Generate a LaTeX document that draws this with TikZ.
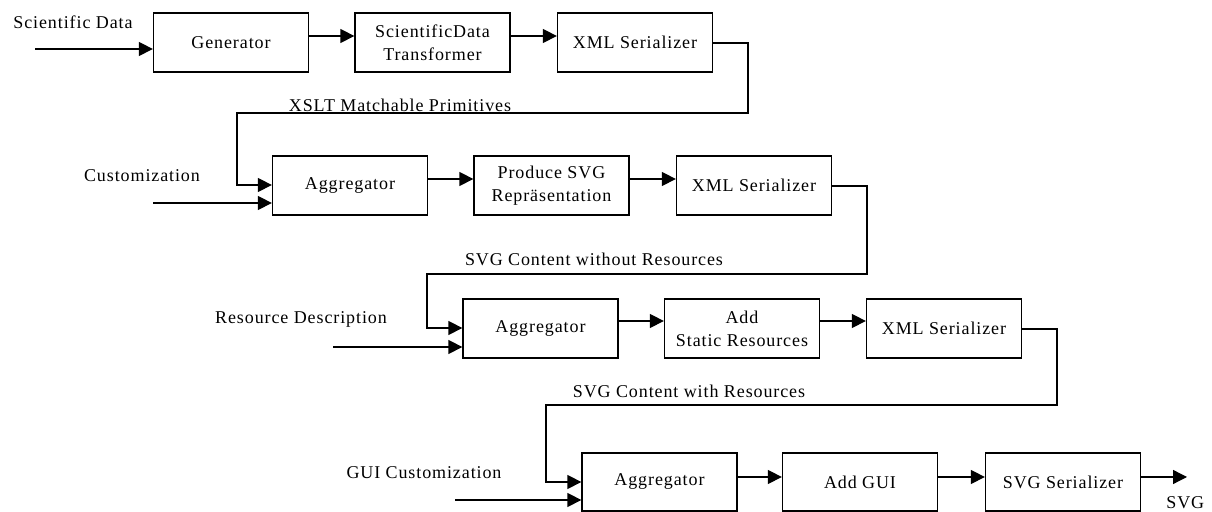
\documentclass[tikz,border=0pt]{standalone}
\usepackage{fontspec}
\setmainfont{Liberation Serif}[LetterSpace=5]
\usetikzlibrary{arrows.meta}
\begin{document}
\begin{tikzpicture}[x=0.5pt,y=-0.5pt,
  every node/.style={font=\fontsize{9}{11.5}\selectfont, inner sep=0pt},
  blk/.style={draw, line width=0.65pt, minimum width=77.5pt, minimum height=29.5pt, align=center},
  lbl/.style={},
  arr/.style={line width=0.65pt, -{Triangle[length=7pt,width=7pt]}},
  ln/.style={line width=0.65pt}]
\useasboundingbox (0,0) rectangle (1212,512);
% row 1
\node[blk] (gen)   at (231,42.5)  {Generator};
\node[blk] (trans) at (432.5,42.5) {ScientificData\\Transformer};
\node[blk] (xml1)  at (635,42.5)  {XML Serializer};
% row 2
\node[blk] (agg2)  at (350,185.5) {Aggregator};
\node[blk] (prod)  at (551.5,185.5) {Produce SVG\\Repräsentation};
\node[blk] (xml2)  at (754,185.5) {XML Serializer};
% row 3
\node[blk] (agg3)  at (540.5,328.5) {Aggregator};
\node[blk] (add)   at (742,328.5) {Add\\Static Resources};
\node[blk] (xml3)  at (944,328.5) {XML Serializer};
% row 4
\node[blk, minimum height=29pt] (agg4)  at (659.5,482) {Aggregator};
\node[blk, minimum height=29pt] (gui)   at (860,482) {Add GUI};
\node[blk, minimum height=29pt] (svgs)  at (1063,482) {SVG Serializer};
% labels
\node[lbl] (lsd)  at (73,22)   {Scientific Data};
\node[lbl] (lcu)  at (142,176) {Customization};
\node[lbl] (lrd)  at (301,319) {Resource Description};
\node[lbl] (lgc)  at (424,473) {GUI Customization};
\node[lbl] (lx)   at (400,105) {XSLT Matchable Primitives};
\node[lbl] (lwo)  at (594,259) {SVG Content without Resources};
\node[lbl] (lwi)  at (689,391) {SVG Content with Resources};
\node[lbl, anchor=west] (lsvg) at (1166,503) {SVG};
% free ends
\coordinate (in1) at (35,49);
\coordinate (in2) at (153,203);
\coordinate (in3) at (333,347);
\coordinate (in4) at (455,500);
\coordinate (out) at (1187,477);
% inputs
\draw[arr] (in1) -- (gen.west |- in1);
\draw[arr] (in2) -- (agg2.west |- in2);
\draw[arr] (in3) -- (agg3.west |- in3);
\draw[arr] (in4) -- (agg4.west |- in4);
% row arrows
\draw[arr] (gen.east |- 0,36) -- (trans.west |- 0,36);
\draw[arr] (trans.east |- 0,36) -- (xml1.west |- 0,36);
\draw[arr] (agg2.east |- 0,179) -- (prod.west |- 0,179);
\draw[arr] (prod.east |- 0,179) -- (xml2.west |- 0,179);
\draw[arr] (agg3.east |- 0,321) -- (add.west |- 0,321);
\draw[arr] (add.east |- 0,321) -- (xml3.west |- 0,321);
\draw[arr] (agg4.east |- 0,477) -- (gui.west |- 0,477);
\draw[arr] (gui.east |- 0,477) -- (svgs.west |- 0,477);
\draw[arr] (svgs.east |- out) -- (out);
% feedback lines
\draw[arr] (xml1.east |- 0,43) -- (748,43) -- (748,113) -- (237,113) -- (237,185) -- (agg2.west |- 0,185);
\draw[arr] (xml2.east |- 0,186) -- (867,186) -- (867,274) -- (427,274) -- (427,328) -- (agg3.west |- 0,328);
\draw[arr] (xml3.east |- 0,329) -- (1057,329) -- (1057,405) -- (546,405) -- (546,482) -- (agg4.west |- 0,482);
\end{tikzpicture}
\end{document}
